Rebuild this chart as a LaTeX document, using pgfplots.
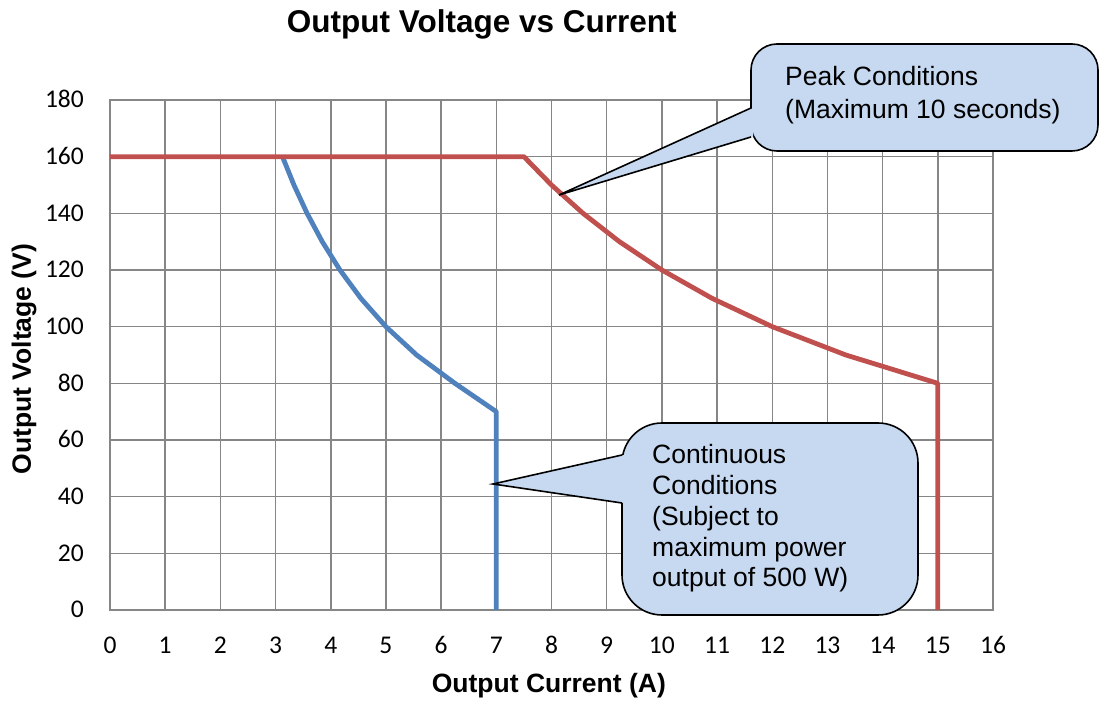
\documentclass[border=0pt]{standalone}
\usepackage{pgfplots}
\pgfplotsset{compat=1.18}
\usepackage{fontspec}
\setmainfont{Liberation Sans}
\newfontfamily\calibri{Carlito}
\definecolor{gridgray}{HTML}{868686}
\definecolor{cred}{HTML}{C0504D}
\definecolor{cblue}{HTML}{4F81BD}
\definecolor{cfill}{HTML}{C6D9F1}
\begin{document}
\begin{tikzpicture}
\useasboundingbox (0,0) rectangle (1106pt,704pt);
\begin{axis}[
  at={(110pt,94pt)}, anchor=south west,
  scale only axis, width=883pt, height=510pt,
  xmin=0, xmax=16, ymin=0, ymax=180,
  xtick={0,1,...,16}, ytick={0,20,...,180},
  grid=major, grid style={gridgray, line width=1.5pt},
  axis line style={gridgray, line width=1.5pt},
  major tick length=0pt,
  /pgf/number format/assume math mode=true,
  ticklabel style={font=\calibri\fontsize{25.5}{30}\selectfont, inner sep=0pt},
  xticklabel style={anchor=base, yshift=-44pt},
  yticklabel style={anchor=base east, xshift=-26pt, yshift=-8pt},
  title={Output Voltage vs Current},
  title style={font=\bfseries\fontsize{31.5}{36}\selectfont, at={(axis description cs:0.421,1.12)}, anchor=base, inner sep=0pt},
  xlabel={Output Current (A)},
  xlabel style={font=\bfseries\fontsize{26.5}{31}\selectfont, at={(axis description cs:0.497,-0.1627)}, anchor=base, inner sep=0pt},
  ylabel={Output Voltage (V)},
  ylabel style={font=\bfseries\fontsize{26.5}{31}\selectfont, at={(axis description cs:-0.0895,0.492)}, anchor=base, inner sep=0pt},
]
\addplot[cblue, line width=4.8pt, line join=round] coordinates {
  (3.125,160) (3.333,150) (3.571,140) (3.846,130) (4.167,120) (4.545,110)
  (5,100) (5.556,90) (6.25,80) (7,70) (7,0)};
\addplot[cred, line width=4.8pt, line join=round] coordinates {
  (0,160) (7.5,160) (8,150) (8.571,140) (9.231,130) (10,120) (10.909,110)
  (12,100) (13.333,90) (15,80) (15,0)};
\end{axis}
\begin{scope}[x=1pt, y=-1pt, yshift=704pt]
  % Peak callout
  \filldraw[fill=cfill, draw=black, line width=1.6pt, rounded corners=26pt] (751,44) rectangle (1098,151);
  \fill[cfill] (753,108) -- (559,195) -- (753,137) -- cycle;
  \draw[black, line width=1.6pt, line join=miter] (751,108) -- (559,195) -- (751,137);
  \node[anchor=base west, inner sep=0pt, font=\fontsize{26.5}{31}\selectfont] at (785,86) {Peak Conditions};
  \node[anchor=base west, inner sep=0pt, font=\fontsize{26.5}{31}\selectfont] at (785,119) {(Maximum 10 seconds)};
  % Continuous callout
  \filldraw[fill=cfill, draw=black, line width=1.6pt, rounded corners=40pt] (622,423) rectangle (918,615);
  \fill[cfill] (624,455) -- (493,484) -- (624,503) -- cycle;
  \draw[black, line width=1.6pt, line join=miter] (622,455) -- (493,484) -- (622,503);
  \node[anchor=base west, inner sep=0pt, font=\fontsize{26.5}{31}\selectfont] at (652,464) {Continuous};
  \node[anchor=base west, inner sep=0pt, font=\fontsize{26.5}{31}\selectfont] at (652,495) {Conditions};
  \node[anchor=base west, inner sep=0pt, font=\fontsize{26.5}{31}\selectfont] at (652,526) {(Subject to};
  \node[anchor=base west, inner sep=0pt, font=\fontsize{26.5}{31}\selectfont] at (652,557) {maximum power};
  \node[anchor=base west, inner sep=0pt, font=\fontsize{26.5}{31}\selectfont] at (652,587) {output of 500 W)};
\end{scope}
\end{tikzpicture}
\end{document}
